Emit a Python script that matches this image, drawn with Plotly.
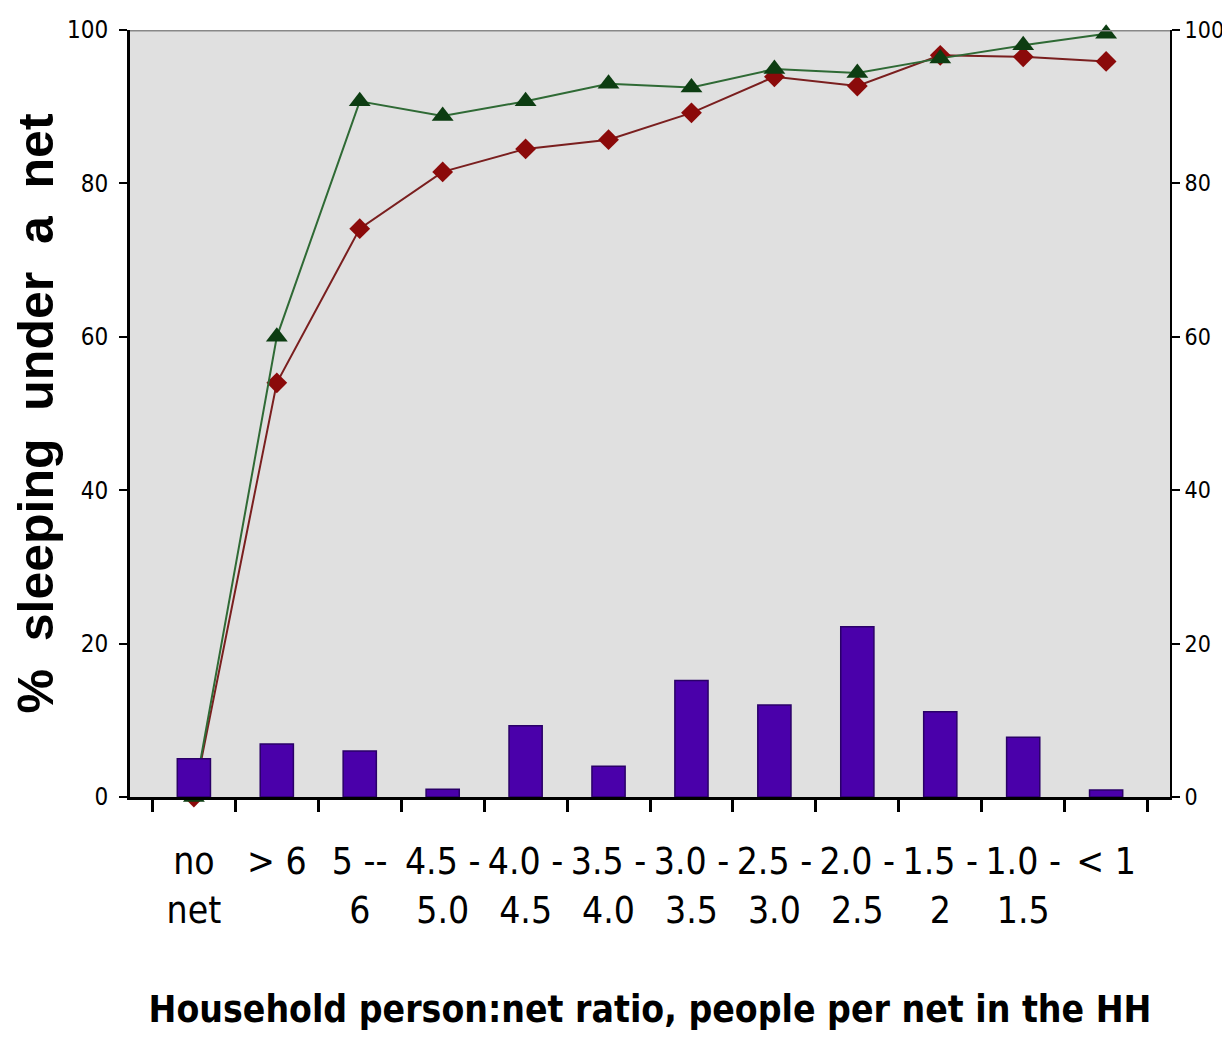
import plotly.graph_objects as go

categories = ["no<br>net", "> 6", "5 --<br>6", "4.5 -<br>5.0", "4.0 -<br>4.5", "3.5 -<br>4.0",
              "3.0 -<br>3.5", "2.5 -<br>3.0", "2.0 -<br>2.5", "1.5 -<br>2", "1.0 -<br>1.5", "< 1"]
bar_values = [5.0, 6.9, 6.0, 1.0, 9.3, 4.0, 15.2, 12.0, 22.2, 11.1, 7.8, 0.9]
red_values = [0, 54.0, 74.1, 81.5, 84.5, 85.7, 89.2, 93.9, 92.7, 96.7, 96.5, 95.9]
green_values = [0, 60.0, 90.7, 88.8, 90.7, 93.0, 92.5, 94.9, 94.4, 96.3, 98.0, 99.5]
y_ticks = [0, 20, 40, 60, 80, 100]

narrow = "DejaVu Sans Condensed, Liberation Sans Narrow, Arial Narrow, sans-serif"
bold = "Liberation Sans, Arial, sans-serif"

fig = go.Figure()
fig.add_trace(go.Bar(
    x=categories, y=bar_values, yaxis="y2", width=0.4,
    marker=dict(color="#4a00aa", line=dict(color="#2a0068", width=1.5)),
    showlegend=False,
))
fig.add_trace(go.Scatter(
    x=categories, y=red_values, mode="lines+markers",
    line=dict(color="#7a1f1f", width=2),
    marker=dict(symbol="diamond", size=16, color="#8b0a0a"),
    cliponaxis=False, showlegend=False,
))
fig.add_trace(go.Scatter(
    x=categories, y=green_values, mode="lines+markers",
    line=dict(color="#2f6a35", width=2),
    marker=dict(symbol="triangle-up", size=19, color="#0d3d12"),
    cliponaxis=False, showlegend=False,
))

fig.add_shape(type="line", xref="paper", yref="y", x0=0, x1=1, y0=100, y1=100,
              line=dict(color="#888888", width=3), layer="above")

fig.update_layout(
    width=1222, height=1034,
    margin=dict(l=122, r=60, t=22, b=245),
    paper_bgcolor="white", plot_bgcolor="#e0e0e0",
    xaxis=dict(
        type="category", tickson="boundaries", ticks="outside", ticklen=12, tickwidth=3,
        tickcolor="black", showline=True, linecolor="black", linewidth=3,
        showgrid=False, tickangle=0, automargin=False, ticklabelstandoff=30,
        tickfont=dict(family=narrow, size=37, color="black"),
        title=dict(text="<b>Household person:net ratio, people per net in the HH</b>",
                   font=dict(family=narrow, size=37, color="black"), standoff=66),
    ),
    yaxis=dict(
        range=[0, 100], tickvals=y_ticks, ticks="outside", ticklen=8, tickwidth=2,
        tickcolor="black", showline=True, linecolor="black", linewidth=3,
        showgrid=False, zeroline=False, automargin=False, ticklabelstandoff=6,
        tickfont=dict(family=narrow, size=24, color="black"),
        title=dict(text="<b>%  sleeping  under  a  net</b>",
                   font=dict(family=bold, size=50, color="black"), standoff=12),
    ),
    yaxis2=dict(
        range=[0, 100], tickvals=y_ticks, ticks="outside", ticklen=8, tickwidth=2,
        tickcolor="black", showline=True, linecolor="black", linewidth=2,
        overlaying="y", side="right", showgrid=False, zeroline=False, automargin=False,
        ticklabelstandoff=0,
        tickfont=dict(family=narrow, size=23, color="black"),
    ),
)

fig.write_html("out.html")
